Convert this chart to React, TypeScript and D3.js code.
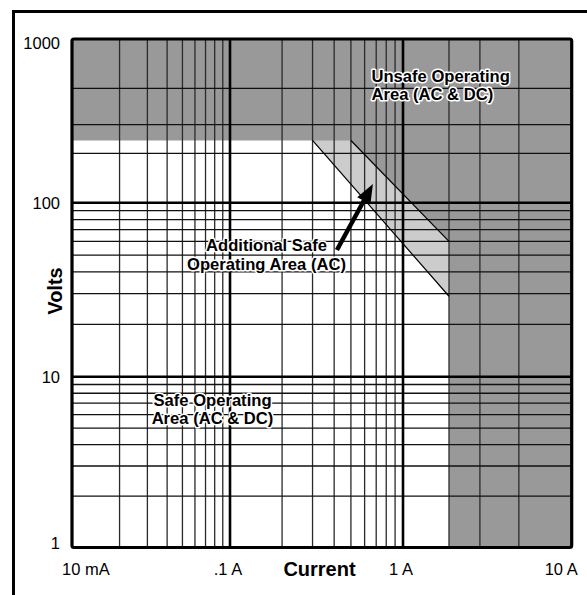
import React from "react";
import * as d3 from "d3";

// ---- data ----
const xTickValues = [0.01, 0.1, 1, 10];
const xTickLabels = ["10 mA", ".1 A", "1 A", "10 A"];
const yTickValues = [1, 10, 100, 1000];
const yTickLabels = ["1", "10", "100", "1000"];
const xMajorGrid = [0.1, 1];
const yMajorGrid = [10, 100];
const xMinorGrid = [0.02, 0.03, 0.04, 0.05, 0.06, 0.07, 0.08, 0.09, 0.2, 0.3, 0.4, 0.5, 0.6, 0.7, 0.8, 0.9, 2, 3, 5];
const yMinorGrid = [2, 3, 4, 5, 6, 7, 8, 9, 20, 30, 40, 50, 60, 70, 80, 90, 200, 300, 500];
// safe operating area (AC & DC) boundary: [current A, volts]
const safeArea: [number, number][] = [[0.01, 240], [0.3, 240], [2, 29], [2, 1], [0.01, 1]];
// additional safe operating area (AC)
const acArea: [number, number][] = [[0.3, 240], [0.5, 240], [2, 60], [2, 29]];
const acLowerEdge: [number, number][] = [[0.3, 240], [2, 29]];
const acUpperEdge: [number, number][] = [[0.5, 240], [2, 60]];
const arrowFrom: [number, number] = [0.415, 53.5];
const arrowTo: [number, number] = [0.67, 130];

const W = 587;
const H = 595;
const FONT = "'Liberation Sans', Arial, Helvetica, sans-serif";

export default function App() {
  const x = d3.scaleLog().domain([0.01, 0.1, 1, 2, 10]).range([72, 230, 403, 449, 571.7]);
  const y = d3.scaleLog().domain([1, 10, 100, 1000]).range([547.5, 376.7, 202.7, 39]);
  const line = d3.line<[number, number]>().x((d) => x(d[0])).y((d) => y(d[1]));
  const poly = (pts: [number, number][]) => line(pts) + "Z";

  const x0 = x(0.01), x1 = x(10), y0 = y(1000), y1 = y(1);

  // arrow geometry
  const ax0 = x(arrowFrom[0]), ay0 = y(arrowFrom[1]);
  const ax1 = x(arrowTo[0]), ay1 = y(arrowTo[1]);
  const dx = ax1 - ax0, dy = ay1 - ay0;
  const len = Math.hypot(dx, dy);
  const ux = dx / len, uy = dy / len;
  const headL = 19, headW = 7.5;
  const bx = ax1 - ux * headL, by = ay1 - uy * headL;
  const head = `M${ax1},${ay1}L${bx - uy * headW},${by + ux * headW}L${bx + uy * headW},${by - ux * headW}Z`;

  const haloText = {
    fontFamily: FONT,
    fontWeight: 700,
    fontSize: 16.6,
    fill: "#000",
    stroke: "#fff",
    strokeWidth: 3,
    paintOrder: "stroke",
    strokeLinejoin: "round",
  } as React.CSSProperties;

  return (
    <div style={{ position: "fixed", left: 0, top: 0 }}>
      <svg width={W} height={H} style={{ display: "block", background: "#fff" }}>
        {/* outer frame */}
        <rect x={13.5} y={11.5} width={620} height={620} fill="none" stroke="#000" strokeWidth={3} />

        {/* regions */}
        <rect x={x0} y={y0} width={x1 - x0} height={y1 - y0} fill="#999999" />
        <path d={poly(safeArea)} fill="#ffffff" />
        <path d={poly(acArea)} fill="#cccccc" />

        {/* minor grid */}
        {xMinorGrid.map((v) => (
          <line key={"xm" + v} x1={x(v)} x2={x(v)} y1={y0} y2={y1} stroke="#2a2a2a" strokeWidth={1.3} />
        ))}
        {yMinorGrid.map((v) => (
          <line key={"ym" + v} x1={x0} x2={x1} y1={y(v)} y2={y(v)} stroke="#111" strokeWidth={1.3} />
        ))}
        {/* major grid */}
        {xMajorGrid.map((v) => (
          <line key={"xM" + v} x1={x(v)} x2={x(v)} y1={y0} y2={y1} stroke="#000" strokeWidth={2.6} />
        ))}
        {yMajorGrid.map((v) => (
          <line key={"yM" + v} x1={x0} x2={x1} y1={y(v)} y2={y(v)} stroke="#000" strokeWidth={2.4} />
        ))}

        {/* AC band edges */}
        <path d={line(acLowerEdge) || ""} fill="none" stroke="#000" strokeWidth={1.2} />
        <path d={line(acUpperEdge) || ""} fill="none" stroke="#000" strokeWidth={1.2} />

        {/* plot border */}
        <rect x={x0} y={y0} width={x1 - x0} height={y1 - y0} rx={2} fill="none" stroke="#000" strokeWidth={3.2} />

        {/* y tick labels */}
        {yTickValues.map((v, i) => {
          const off = i === 0 ? -4 : i === yTickValues.length - 1 ? 4 : 0;
          return (
            <text key={"yt" + v} x={60} y={y(v) + off} dy="0.36em" textAnchor="end"
              fontFamily={FONT} fontSize={16.5} fill="#000">{yTickLabels[i]}</text>
          );
        })}
        {/* x tick labels */}
        {xTickValues.map((v, i) => {
          const anchor = i === 0 ? "start" : i === xTickValues.length - 1 ? "end" : "middle";
          const xp = i === 0 ? x(v) - 10 : i === xTickValues.length - 1 ? x(v) + 6 : x(v) - 2;
          return (
            <text key={"xt" + v} x={xp} y={575} textAnchor={anchor}
              fontFamily={FONT} fontSize={16.5} fill="#000">{xTickLabels[i]}</text>
          );
        })}

        {/* axis titles */}
        <text x={319.5} y={576} textAnchor="middle" fontFamily={FONT} fontWeight={700} fontSize={20} fill="#000">Current</text>
        <text transform={`translate(61.5,291) rotate(-90)`} textAnchor="middle" fontFamily={FONT} fontWeight={700} fontSize={20} fill="#000">Volts</text>

        {/* annotations */}
        <text x={371.5} y={82} style={haloText}>Unsafe Operating</text>
        <text x={371.5} y={100} style={haloText}>Area (AC &amp; DC)</text>

        <text x={212.5} y={405.5} textAnchor="middle" style={haloText}>Safe Operating</text>
        <text x={212.5} y={423.5} textAnchor="middle" style={haloText}>Area (AC &amp; DC)</text>

        <text x={266.5} y={250.5} textAnchor="middle" style={haloText}>Additional Safe</text>
        <text x={266.5} y={269.5} textAnchor="middle" style={haloText}>Operating Area (AC)</text>

        {/* arrow */}
        <line x1={ax0} y1={ay0} x2={bx + ux * 2} y2={by + uy * 2} stroke="#000" strokeWidth={4.5} />
        <path d={head} fill="#000" />
      </svg>
    </div>
  );
}
